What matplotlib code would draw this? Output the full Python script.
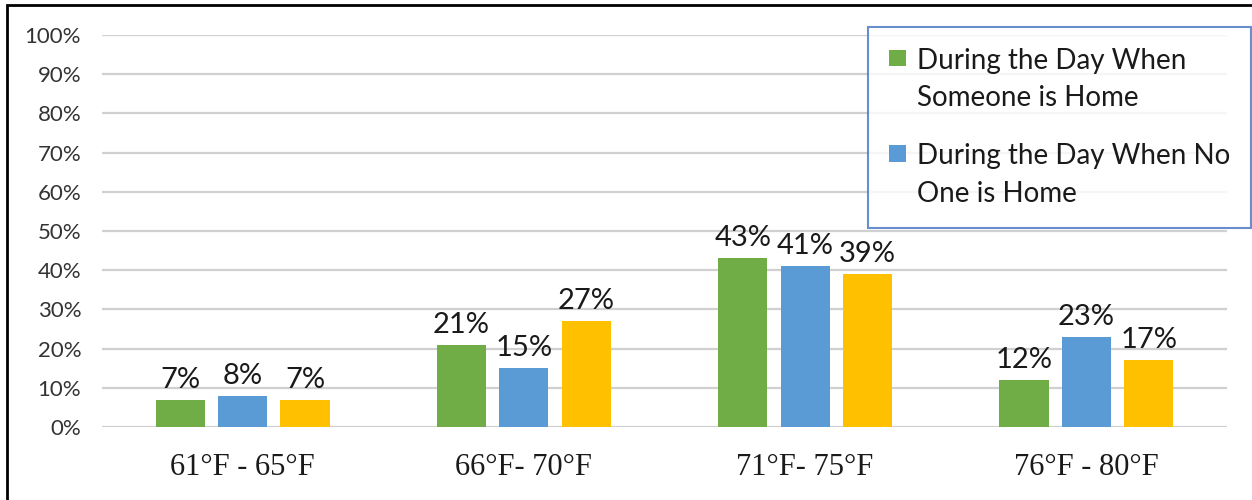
import matplotlib.pyplot as plt
from matplotlib.patches import Rectangle
from matplotlib.legend_handler import HandlerPatch
import numpy as np

categories = ['61°F - 65°F', '66°F- 70°F', '71°F- 75°F', '76°F - 80°F']
someone_home = [7, 21, 43, 12]
no_one_home = [8, 15, 41, 23]
third_series = [7, 27, 39, 17]

series = [
    (someone_home, '#70AD47', 'During the Day When\nSomeone is Home'),
    (no_one_home, '#5B9BD5', 'During the Day When No\nOne is Home'),
    (third_series, '#FFC000', None),
]
yticks = list(range(0, 101, 10))

plt.rcParams['font.family'] = ['Lato', 'DejaVu Sans']

fig = plt.figure(figsize=(12.52, 5.0), dpi=100)
ax = fig.add_axes([102 / 1252, 73 / 500, 1125 / 1252, 392 / 500])

x = np.arange(len(categories))
width = 0.175
step = 0.222
handles = []
for i, (vals, color, label) in enumerate(series):
    bars = ax.bar(x + (i - 1) * step, vals, width, color=color, zorder=3)
    if label:
        handles.append((bars[0], label))
    for xi, v in zip(x + (i - 1) * step, vals):
        ax.text(xi, v + 1.8, f'{v}%', ha='center', va='bottom',
                fontsize=21, color='#1a1a1a', zorder=4)

ax.set_xlim(-0.5, len(categories) - 0.5)
ax.set_ylim(0, 100)
ax.set_yticks(yticks)
ax.set_yticklabels([f'{t}%' for t in yticks], fontsize=16, color='#333333')
ax.set_xticks(x)
ax.set_xticklabels(categories, fontsize=22, family=['Liberation Serif', 'DejaVu Serif'],
                   color='#1a1a1a')
ax.tick_params(axis='both', length=0)
ax.tick_params(axis='x', pad=19)
ax.tick_params(axis='y', pad=15)
ax.yaxis.grid(True, color='#d0d0d0', linewidth=1.6, zorder=0)
for s in ax.spines.values():
    s.set_visible(False)


# square marker sitting next to the first line of a two-line label
def top_square(legend, orig_handle, xdescent, ydescent, width, height, fontsize):
    side = 0.6 * fontsize
    return Rectangle((-xdescent, -ydescent + 0.8 * fontsize + (height - side) / 2),
                     side, side)


leg = fig.legend([h for h, _ in handles], [l for _, l in handles],
                 loc='upper left', bbox_to_anchor=(868 / 1252, 1 - 27 / 500),
                 fontsize=20, frameon=True, fancybox=False,
                 handlelength=0.6, handleheight=0.6, handletextpad=0.4,
                 labelspacing=1.15, borderpad=0.75, borderaxespad=0,
                 handler_map={Rectangle: HandlerPatch(patch_func=top_square)})
leg.get_frame().set_edgecolor('#4472C4')
leg.get_frame().set_linewidth(1.5)
for t in leg.get_texts():
    t.set_linespacing(1.55)
    t.set_color('#1a1a1a')

# outer frame along the left and top edges
fig.add_artist(Rectangle((7 / 1252, -0.1), 1.2, 1.1 - 5 / 500,
                         transform=fig.transFigure, fill=False,
                         edgecolor='black', linewidth=2))

fig.savefig('out.png', dpi=100)
